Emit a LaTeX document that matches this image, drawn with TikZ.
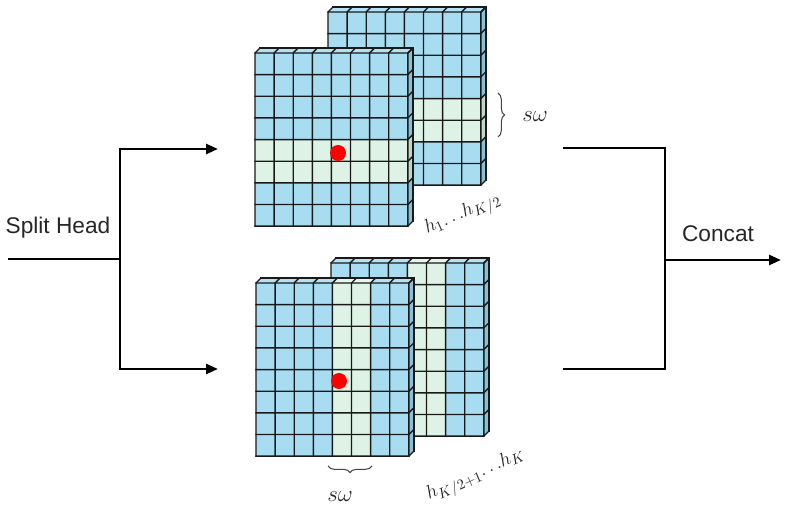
\documentclass[tikz,border=0pt]{standalone}
\usepackage{fontspec}
\setmainfont{Liberation Sans}
\usetikzlibrary{arrows.meta,decorations.pathreplacing,calc}
\definecolor{cellblue}{RGB}{168,220,240}
\definecolor{topblue}{RGB}{178,226,244}
\definecolor{sideblue}{RGB}{138,192,214}
\definecolor{hlgreen}{RGB}{222,243,229}
\definecolor{hltop}{RGB}{230,246,235}
\definecolor{hlside}{RGB}{192,214,200}
\definecolor{gridline}{RGB}{25,25,25}
\definecolor{bracegray}{RGB}{70,70,70}
\newcommand{\cubegrid}[3]{%
  \foreach \r in {1,...,8}{%
    \foreach \c in {1,...,8}{%
      \pgfmathtruncatemacro{\hl}{ifthenelse(#3==0,(\r==5||\r==6),(\c==5||\c==6))}%
      \ifnum\hl=1 \def\fc{hlgreen}\def\tc{hltop}\def\sc{hlside}\else\def\fc{cellblue}\def\tc{topblue}\def\sc{sideblue}\fi
      \fill[\fc] ({#1+(\c-1)*19.1},{#2+(\r-1)*21.65}) rectangle ({#1+\c*19.1},{#2+\r*21.65});
      \ifnum\r=1
        \fill[\tc] ({#1+(\c-1)*19.1},{#2}) -- ({#1+\c*19.1},{#2}) -- ({#1+\c*19.1+5},{#2-5}) -- ({#1+(\c-1)*19.1+5},{#2-5}) -- cycle;
      \fi
      \ifnum\c=8
        \fill[\sc] ({#1+8*19.1},{#2+(\r-1)*21.65}) -- ({#1+8*19.1+5},{#2+(\r-1)*21.65-5}) -- ({#1+8*19.1+5},{#2+\r*21.65-5}) -- ({#1+8*19.1},{#2+\r*21.65}) -- cycle;
      \fi
    }%
  }%
  \foreach \k in {0,...,8}{%
    \draw[cellline] ({#1+\k*19.1+5},{#2-5}) -- ({#1+\k*19.1},{#2}) -- ({#1+\k*19.1},{#2+173.2});
    \draw[cellline] ({#1+152.8+5},{#2+\k*21.65-5}) -- ({#1+152.8},{#2+\k*21.65}) -- ({#1},{#2+\k*21.65});
  }%
  \draw[cellline] ({#1+5},{#2-5}) -- ({#1+157.8},{#2-5}) -- ({#1+157.8},{#2+168.2});
}
\begin{document}
\begin{tikzpicture}[x=0.75pt,y=-0.75pt,
  cellline/.style={draw=gridline,line width=1.05pt,line join=miter,line cap=rect},
  flow/.style={draw=black,line width=1.9pt},
  flowarrow/.style={flow,-{Triangle[length=9pt,width=7.5pt]}},
  lbl/.style={font=\fontsize{17}{20}\selectfont,text=black!85},
  mathlbl/.style={font=\fontsize{16}{19}\selectfont,text=black!85},
  hlbl/.style={font=\fontsize{15}{18}\selectfont,text=black!85,rotate=24,inner sep=0pt},
  bracestyle/.style={draw=bracegray,line width=0.8pt,decorate},
  dot/.style={circle,fill=red,draw=none,minimum size=12pt,inner sep=0pt}]
\useasboundingbox (0,0) rectangle (786,513);
% grids
\cubegrid{328}{12}{0}
\cubegrid{255}{53}{0}
\cubegrid{331}{263}{1}
\cubegrid{256}{283}{1}
\node[dot] (d1) at (338,153) {};
\node[dot] (d2) at (339,381) {};
% braces and labels
\coordinate (b1a) at (498,93);
\coordinate (b1b) at (498,137);
\draw[bracestyle,decoration={brace,amplitude=5pt}] (b1a) -- (b1b);
\node[mathlbl] (sw1) at (535,117) {$s\omega$};
\coordinate (b2a) at (372,466);
\coordinate (b2b) at (328,466);
\draw[bracestyle,decoration={brace,amplitude=5pt}] (b2a) -- (b2b);
\node[mathlbl] (sw2) at (340,497) {$s\omega$};
\node[hlbl] (h1) at (463,215) {$h_1{\ldots}h_{K/2}$};
\node[hlbl] (h2) at (476,476) {$h_{K/2+1}{\ldots}h_K$};
% split
\node[lbl] (split) at (58,228) {Split Head};
\coordinate (in) at (8,259);
\coordinate (sp) at (120,259);
\coordinate (s1) at (120,149);
\coordinate (s2) at (120,369);
\coordinate (e1) at (218,149);
\coordinate (e2) at (218,369);
\draw[flow] (in) -- (sp);
\draw[flow,line cap=rect] (s1) -- (s2);
\draw[flowarrow] (s1) -- (e1);
\draw[flowarrow] (s2) -- (e2);
% concat
\node[lbl] (concat) at (718,234) {Concat};
\coordinate (m1) at (563,148);
\coordinate (m2) at (563,369);
\coordinate (j1) at (665,148);
\coordinate (j2) at (665,369);
\coordinate (jm) at (665,260);
\coordinate (out) at (781,260);
\draw[flow,line join=miter] (m1) -- (j1) -- (j2) -- (m2);
\draw[flowarrow] (jm) -- (out);
\end{tikzpicture}
\end{document}
